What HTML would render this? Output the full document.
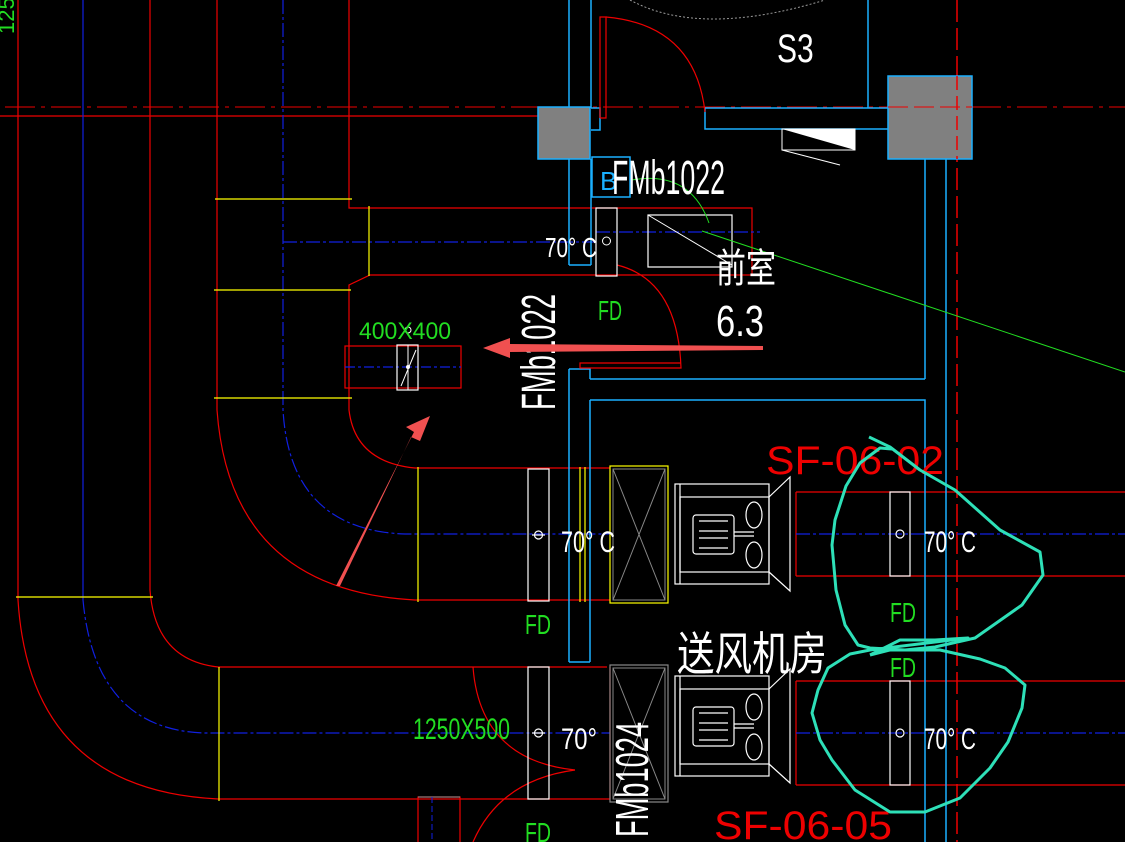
<!DOCTYPE html>
<html><head><meta charset="utf-8"><style>
html,body{margin:0;padding:0;background:#000;}
svg{display:block;}
text{font-family:"Liberation Sans","Noto Sans CJK SC",sans-serif;}
</style></head><body>
<svg width="1125" height="842" viewBox="0 0 1125 842" xmlns="http://www.w3.org/2000/svg">
<rect width="1125" height="842" fill="#000"/>
<defs>
<g id="fan" fill="none" stroke="#fff" stroke-width="1.2">
  <rect x="675" y="484" width="94" height="100"/>
  <line x1="680" y1="484" x2="680" y2="584"/>
  <rect x="680" y="497" width="89" height="75"/>
  <polyline points="769,497 790,477 790,591 769,572"/>
  <rect x="693" y="515" width="41" height="39" rx="3"/>
  <line x1="699" y1="521" x2="728" y2="521"/><line x1="699" y1="531" x2="728" y2="531"/>
  <line x1="699" y1="538" x2="728" y2="538"/><line x1="699" y1="548" x2="728" y2="548"/>
  <line x1="734" y1="532" x2="754" y2="532"/><line x1="734" y1="536" x2="754" y2="536"/>
  <ellipse cx="754" cy="515" rx="8" ry="13"/><ellipse cx="754" cy="555" rx="8" ry="13"/>
</g>
<g id="damp" fill="none" stroke="#fff" stroke-width="1.2">
  <rect x="0" y="0" width="21" height="132"/>
  <circle cx="10.5" cy="66" r="4"/><line x1="4" y1="66" x2="17" y2="66"/>
</g>
</defs>

<!-- dashed horizontal axis -->
<line x1="5" y1="107" x2="1125" y2="107" stroke="#e00" stroke-width="1" stroke-dasharray="30,6,4,6"/>
<line x1="0" y1="116" x2="575" y2="116" stroke="#e00" stroke-width="1.2"/>
<!-- red dashed vertical right -->
<line x1="957" y1="0" x2="957" y2="842" stroke="#e00" stroke-width="1.5" stroke-dasharray="22,6"/>

<!-- left ducts -->
<g fill="none" stroke="#e00" stroke-width="1.2">
  <path d="M18 0 V600 Q30 790 218 799 H610"/>
  <path d="M150 0 V590 Q155 660 218 667 H607"/>
  <path d="M217 0 V410 Q230 590 415 600 H610"/>
  <path d="M349 0 V208 H752 V275 H370 L349 285 V410 Q355 462 415 468 H610"/>
  <rect x="345" y="346" width="116" height="42"/>
  <path d="M796 492 H1125 M796 576 H1125 M796 492 V576"/>
  <path d="M796 681 H1125 M796 785 H1125 M796 681 V785"/>
  <path d="M610 667 V799"/>
</g>
<g fill="none" stroke="#1020e0" stroke-width="1.2">
  <line x1="83" y1="0" x2="83" y2="600"/>
  <path d="M83 600 Q95 730 205 733 H610" stroke-dasharray="14,3,3,3"/>
  <path d="M283 0 V410 Q290 530 405 534 H610" stroke-dasharray="14,3,3,3"/>
  <path d="M283 242 H596 M596 232 H760" stroke-dasharray="14,3,3,3"/>
  <line x1="345" y1="367" x2="461" y2="367" stroke-dasharray="10,3,3,3"/>
  <path d="M796 534 H1125 M796 733 H1125" stroke-dasharray="14,3,3,3"/>
</g>
<g stroke="#ff0" stroke-width="1.2">
  <line x1="215" y1="199" x2="352" y2="199"/>
  <line x1="214" y1="290" x2="351" y2="290"/>
  <line x1="214" y1="398" x2="352" y2="398"/>
  <line x1="16" y1="597" x2="153" y2="597"/>
  <line x1="369" y1="206" x2="369" y2="276"/>
  <line x1="418" y1="467" x2="418" y2="602"/>
  <line x1="219" y1="667" x2="219" y2="801"/>
  <line x1="580" y1="467" x2="580" y2="602"/>
  <line x1="585" y1="467" x2="585" y2="602"/>
</g>

<!-- cyan walls -->
<g fill="none" stroke="#1ab0ff" stroke-width="1.5">
  <line x1="569" y1="0" x2="569" y2="265"/>
  <line x1="591" y1="0" x2="591" y2="108"/>
  <path d="M591 108 H600 V130 H591"/>
  <line x1="591" y1="159" x2="591" y2="265"/>
  <line x1="569" y1="265" x2="591" y2="265"/>
  <line x1="868" y1="0" x2="868" y2="108"/>
  <path d="M705 108 H888 M705 108 V129 H888"/>
  <rect x="592" y="157" width="38" height="40"/>
  <line x1="925" y1="159" x2="925" y2="379"/>
  <line x1="946" y1="159" x2="946" y2="842"/>
  <path d="M590 379 H925 M569 369 H590 V379"/>
  <path d="M590 400 H925 V842"/>
  <line x1="569" y1="369" x2="569" y2="662"/>
  <line x1="590" y1="400" x2="590" y2="662"/>
  <line x1="569" y1="662" x2="590" y2="662"/>
</g>
<rect x="538" y="107" width="52" height="52" fill="#808080" stroke="#1ab0ff" stroke-width="1.5"/>
<rect x="888" y="76" width="84" height="83" fill="#808080" stroke="#1ab0ff" stroke-width="1.5"/>
<line x1="957" y1="76" x2="957" y2="159" stroke="#e00" stroke-width="1.5" stroke-dasharray="14,6"/>
<line x1="888" y1="107" x2="972" y2="107" stroke="#e00" stroke-width="1" stroke-dasharray="20,6"/>
<text x="600" y="190" fill="#1ab0ff" font-size="26">B</text>

<!-- door arcs and gray circle -->
<path d="M630 0 Q700 38 825 0" fill="none" stroke="#999" stroke-dasharray="2,2"/>
<g fill="none" stroke="#e00" stroke-width="1.2">
  <path d="M600 118 V17 H606 V118 H600"/>
  <path d="M606 17 Q695 25 705 112"/>
  <path d="M617 265 Q678 280 681 368 H580 V363 H681"/>
  <path d="M473 667 Q480 760 575 770"/>
  <path d="M473 842 Q500 780 575 770"/>
  <rect x="418" y="797" width="42" height="50"/>
</g>
<line x1="418" y1="797" x2="460" y2="797" stroke="#999"/>
<line x1="432" y1="797" x2="432" y2="842" stroke="#1020e0" stroke-dasharray="6,3"/>

<!-- white triangle -->
<polygon points="782,129 855,129 855,150 782,150" fill="none" stroke="#fff"/>
<polygon points="782,129 855,129 855,150" fill="#fff"/>
<line x1="782" y1="150" x2="840" y2="165" stroke="#fff"/>

<!-- top damper, rect -->
<rect x="596" y="208" width="21" height="68" fill="none" stroke="#fff" stroke-width="1.2"/>
<circle cx="606.5" cy="241" r="4" fill="none" stroke="#fff"/>
<rect x="648" y="215" width="84" height="52" fill="none" stroke="#fff" stroke-width="1.2"/>
<line x1="648" y1="215" x2="732" y2="265" stroke="#fff"/>
<!-- green lines -->
<path d="M632 180 Q690 170 709 223" fill="none" stroke="#2d2" stroke-width="1"/>
<line x1="702" y1="231" x2="1125" y2="372" stroke="#2d2" stroke-width="1"/>

<!-- small damper 400x400 -->
<rect x="397" y="345" width="21" height="45" fill="none" stroke="#fff" stroke-width="1.2"/>
<line x1="408" y1="345" x2="408" y2="390" stroke="#fff"/>
<line x1="401" y1="386" x2="416" y2="350" stroke="#fff"/>
<circle cx="408" cy="367" r="2" fill="#fff"/>
<circle cx="408" cy="330" r="3" fill="none" stroke="#fff"/>

<!-- big dampers -->
<use href="#damp" x="528" y="469"/>
<use href="#damp" x="528" y="667"/>
<g fill="none" stroke="#fff" stroke-width="1.2">
  <rect x="890" y="492" width="20" height="84"/><circle cx="900" cy="534" r="4"/>
  <rect x="890" y="681" width="20" height="104"/><circle cx="900" cy="733" r="4"/>
</g>

<!-- filter boxes -->
<rect x="610" y="466" width="58" height="137" fill="none" stroke="#ff0" stroke-width="1.2"/>
<rect x="613" y="469" width="52" height="131" fill="none" stroke="#888"/>
<path d="M613 469 L665 600 M665 469 L613 600" stroke="#888"/>
<rect x="610" y="665" width="58" height="137" fill="none" stroke="#888" stroke-width="1.2"/>
<rect x="613" y="668" width="52" height="131" fill="none" stroke="#888"/>
<path d="M613 668 L665 799 M665 668 L613 799" stroke="#888"/>

<!-- fans -->
<use href="#fan"/>
<use href="#fan" y="192"/>

<!-- text -->
<g fill="#fff" font-weight="normal">
  <text x="777" y="62" font-size="40" transform="translate(777 0) scale(0.75 1) translate(-777 0)" style="font-weight:100">S3</text>
  <text x="612" y="194" font-size="48" textLength="113" lengthAdjust="spacingAndGlyphs">FMb1022</text>
  <text x="545" y="257" font-size="28" textLength="52" lengthAdjust="spacingAndGlyphs">70° C</text>
  <text x="716" y="282" font-size="40" textLength="60" lengthAdjust="spacingAndGlyphs">前室</text>
  <text x="716" y="336" font-size="44" textLength="48" lengthAdjust="spacingAndGlyphs">6.3</text>
  <text x="0" y="0" font-size="48" textLength="116" lengthAdjust="spacingAndGlyphs" transform="translate(555 410) rotate(-90)">FMb1022</text>
  <text x="561" y="552" font-size="30" textLength="54" lengthAdjust="spacingAndGlyphs">70° C</text>
  <text x="924" y="552" font-size="30" textLength="52" lengthAdjust="spacingAndGlyphs">70° C</text>
  <text x="561" y="749" font-size="30" textLength="36" lengthAdjust="spacingAndGlyphs">70°</text>
  <text x="924" y="749" font-size="30" textLength="52" lengthAdjust="spacingAndGlyphs">70° C</text>
  <text x="677" y="670" font-size="46" textLength="150" lengthAdjust="spacingAndGlyphs">送风机房</text>
  <text x="0" y="0" font-size="46" textLength="115" lengthAdjust="spacingAndGlyphs" transform="translate(648 837) rotate(-90)">FMb1024</text>
</g>
<g fill="#2d2">
  <text x="598" y="320" font-size="28" textLength="24" lengthAdjust="spacingAndGlyphs">FD</text>
  <text x="525" y="634" font-size="28" textLength="26" lengthAdjust="spacingAndGlyphs">FD</text>
  <text x="890" y="622" font-size="28" textLength="26" lengthAdjust="spacingAndGlyphs">FD</text>
  <text x="890" y="677" font-size="28" textLength="26" lengthAdjust="spacingAndGlyphs">FD</text>
  <text x="525" y="842" font-size="28" textLength="26" lengthAdjust="spacingAndGlyphs">FD</text>
  <text x="359" y="339" font-size="24" textLength="92" lengthAdjust="spacingAndGlyphs">400X400</text>
  <text x="413" y="739" font-size="30" textLength="97" lengthAdjust="spacingAndGlyphs">1250X500</text>
  <text x="0" y="0" font-size="22" transform="translate(14 34) rotate(-90)">1250</text>
</g>
<g fill="#e00">
  <text x="766" y="474" font-size="40" textLength="178" lengthAdjust="spacingAndGlyphs">SF-06-02</text>
  <text x="714" y="839" font-size="40" textLength="178" lengthAdjust="spacingAndGlyphs">SF-06-05</text>
</g>

<!-- cyan hand-drawn loops -->
<g fill="none" stroke="#2ee0b8" stroke-width="3" stroke-linejoin="round">
  <path d="M869 437 L890 447 L920 470 L955 490 L1000 530 L1040 552 L1043 575 L1022 605 L975 638 L935 647 L905 650 L870 648 L858 645 L845 625 L836 590 L832 545 L835 520 L846 486 L860 463 L880 448 L892 449"/>
  <path d="M870 655 L900 640 L935 640 L968 638 L870 650 L850 654 L828 668 L818 690 L812 713 L820 740 L832 760 L855 790 L890 812 L925 812 L960 798 L990 768 L1008 742 L1022 708 L1025 685 L1005 668 L980 659 L940 650 L890 650 L870 655"/>
</g>

<!-- annotation arrows -->
<polygon points="763,346 510,344 510,338 483,348 510,358 510,352 763,350" fill="#f05050"/>
<polygon points="336,586 340,586 411,437 420,441 430,416 406,427 414,432 336,586" fill="#f05050"/>
</svg>
</body></html>
